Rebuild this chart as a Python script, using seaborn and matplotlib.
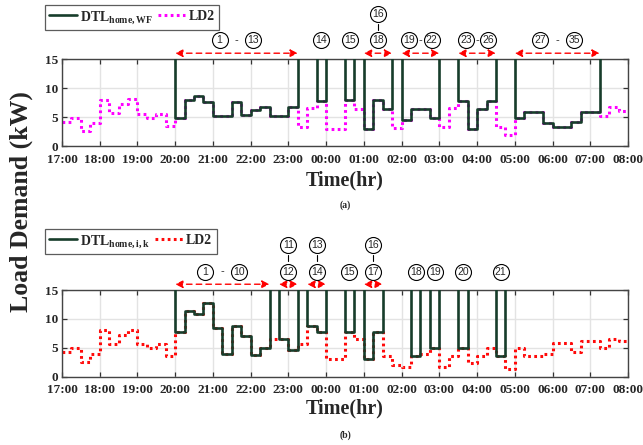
import numpy as np
import pandas as pd
import matplotlib
matplotlib.use("Agg")
import matplotlib.pyplot as plt
import seaborn as sns

# --- time axis: 15-min slots from 17:00 to 08:00 (hours after midnight counted as 24+) ---
slots = np.arange(17, 32, 0.25)
hour_ticks = list(range(17, 33))
hour_labels = [f"{h % 24:02d}:00" for h in hour_ticks]

N = None

# --- (a) DTL_home,WF and LD2 (None = not in that series for the slot) ---
dtl_a = ([N] * 12
         + [4.9, 7.9, 8.6, 7.6, 5.2, 5.2, 7.6, 5.3, 6.2, 6.8, 5.1, 5.1, 6.8]
         + [N, N, 7.8, N, N, 7.9, N, 3.0, 8.0, 6.4, N, 4.5, 6.4, 6.4, 4.8, N, N,
            7.8, 3.0, 6.4, 7.8, N, N, 4.8, 5.8, 5.8, 4.0, 3.3, 3.3, 4.2, 5.9, 5.9, N, N, N])
ld2_a = ([4.2, 4.9, 2.6, 3.9, 8.0, 5.7, 7.3, 8.1, 5.6, 4.8, 5.6, 3.5]
         + [N] * 13
         + [3.2, 6.5, N, 3.0, 3.0, N, 6.3, N, N, N, 3.1, N, N, N, N, 3.2, 6.6,
            N, N, N, N, 3.3, 1.9, N, N, N, N, N, N, N, N, N, 5.2, 6.7, 6.1])

# --- (b) DTL_home,i,k and LD2 ---
dtl_b = ([N] * 12
         + [7.8, 11.3, 10.9, 12.7, 8.4, 3.9, 8.7, 7.1, 3.8, 5.0]
         + [N, 6.6, 4.7, N, 8.7, 7.8, N, N, 7.8, N, 3.0, 7.8, N, N, N, 3.5, N, 4.9,
            N, N, 4.9, N, N, N, 3.5] + [N] * 13)
ld2_b = ([4.2, 5.0, 2.6, 4.0, 8.1, 5.7, 7.3, 8.1, 5.7, 4.9, 5.7, 3.6]
         + [N] * 10
         + [6.6, N, N, 5.6, N, N, 3.0, 3.0, N, 6.5, N, N, 3.5, 2.1, 1.6, N, 4.0, N,
            1.6, 3.5, N, 2.3, 3.5, 4.9, N, 1.4, 4.9, 3.5, 3.5, 4.0, 5.9, 5.9, 4.2,
            6.1, 6.1, 4.9, 6.6, 6.1])

# --- slot labels: (first, last, start hour, end hour, kind) ---
tags_a = [("1", "13", 20.0, 23.25, "range"), ("14", N, 23.75, 24.0, "single"),
          ("15", N, 24.5, 24.75, "single"), ("16", "18", 25.0, 25.75, "stack"),
          ("19", "22", 26.0, 27.0, "range"), ("23", "26", 27.5, 28.5, "range"),
          ("27", "35", 29.0, 31.25, "range")]
tags_b = [("1", "10", 20.0, 22.5, "range"), ("11", "12", 22.75, 23.25, "stack"),
          ("13", "14", 23.5, 24.0, "stack"), ("15", N, 24.45, 24.75, "single"),
          ("16", "17", 25.0, 25.5, "stack"), ("18", N, 26.25, 26.5, "single"),
          ("19", N, 26.75, 27.0, "single"), ("20", N, 27.5, 27.75, "single"),
          ("21", N, 28.5, 28.75, "single")]

sns.set_theme(style="ticks")
plt.rcParams["font.family"] = ["Liberation Serif", "DejaVu Serif"]
plt.rcParams["font.weight"] = "bold"
plt.rcParams["mathtext.fontset"] = "custom"
plt.rcParams["mathtext.rm"] = "Liberation Serif:bold"
plt.rcParams["mathtext.bf"] = "Liberation Serif:bold"

DTL_COLOR = "#173d2b"


def build(dtl, ld2):
    df = pd.DataFrame({"t": slots, "DTL": dtl, "LD2": ld2}, dtype=float)
    # LD2 hidden under DTL during the charging slots, DTL off-scale otherwise
    df["LD2"] = df["LD2"].fillna(df["DTL"])
    df["DTL"] = df["DTL"].fillna(16.5)
    last = df.iloc[[-1]].copy()
    last["t"] = 32.0
    return pd.concat([df, last], ignore_index=True)


def circ(ax, x, y, txt):
    ax.plot([x], [y], "o", ms=11.5, mfc="white", mec="black", mew=0.8,
            clip_on=False, zorder=10)
    ax.text(x, y, txt, ha="center", va="center", fontsize=7.5,
            family="Liberation Sans", fontweight="normal", zorder=11)


def arrow(ax, x0, x1, y=16.0):
    ax.annotate("", xy=(x1, y), xytext=(x0, y), annotation_clip=False,
                arrowprops=dict(arrowstyle="<|-|>", color="red", ls=(0, (4, 3)),
                                lw=1.0, mutation_scale=11, shrinkA=0, shrinkB=0))


def draw_tags(ax, tags):
    for lo, hi, x0, x1, kind in tags:
        xc = (x0 + x1) / 2
        if kind == "single":
            circ(ax, xc, 18.2, lo)
        elif kind == "stack":
            circ(ax, xc, 22.8, lo)
            circ(ax, xc, 18.2, hi)
            ax.plot([xc, xc], [20.0, 21.0], color="black", lw=0.8, clip_on=False)
            arrow(ax, x0, x1)
        else:
            gap = 0.45 if (x1 - x0) > 1.5 else 0.3
            circ(ax, xc - gap, 18.2, lo)
            circ(ax, xc + gap, 18.2, hi)
            ax.text(xc, 18.2, "-", ha="center", va="center", fontsize=8,
                    family="Liberation Sans", fontweight="normal")
            arrow(ax, x0, x1)


def panel(ax, df, ld2_color, dtl_label):
    sns.lineplot(data=df, x="t", y="LD2", drawstyle="steps-post", color=ld2_color,
                 lw=2.2, linestyle=(0, (0.9, 1.1)), ax=ax, label="LD2", zorder=2)
    sns.lineplot(data=df, x="t", y="DTL", drawstyle="steps-post", color=DTL_COLOR,
                 lw=1.9, ax=ax, label=dtl_label, zorder=3)
    ax.set_xlim(17, 32)
    ax.set_ylim(0, 15)
    ax.set_xticks(hour_ticks)
    ax.set_xticklabels(hour_labels)
    ax.set_yticks([0, 5, 10, 15])
    ax.grid(True, color="#e3e3e3", lw=1.0)
    ax.set_axisbelow(True)
    ax.tick_params(direction="in", top=True, right=True, length=3.5, width=0.9,
                   labelsize=9.5, color="#333333")
    ax.tick_params(axis="x", pad=5.5)
    ax.tick_params(axis="y", pad=3)
    for lab in ax.get_xticklabels() + ax.get_yticklabels():
        lab.set_fontweight("bold")
    for s in ax.spines.values():
        s.set_color("#444444")
        s.set_linewidth(1.0)
    ax.set_xlabel("")
    ax.set_ylabel("")
    h, l = ax.get_legend_handles_labels()
    return [h[1], h[0]], [l[1], l[0]]


fig = plt.figure(figsize=(6.43, 4.45), dpi=100)
ax_a = fig.add_axes([0.0964, 0.6719, 0.8803, 0.1955])
ax_b = fig.add_axes([0.0964, 0.1535, 0.8803, 0.1948])

for ax, dtl, ld2, col, lab, tags, y_leg in [
        (ax_a, dtl_a, ld2_a, "#ff00ff", r"DTL$_{\rm home,WF}$", tags_a, 0.989),
        (ax_b, dtl_b, ld2_b, "#ff0a0a", r"DTL$_{\rm home,i,k}$", tags_b, 0.486)]:
    hh, ll = panel(ax, build(dtl, ld2), col, lab)
    draw_tags(ax, tags)
    leg = ax.legend(hh, ll, loc="upper left", bbox_to_anchor=(0.070, y_leg),
                    bbox_transform=fig.transFigure, ncol=2, fontsize=10,
                    frameon=True, fancybox=False, edgecolor="#333333",
                    borderpad=0.3, handlelength=2.0, columnspacing=0.3,
                    handletextpad=0.25, borderaxespad=0)
    leg.get_frame().set_linewidth(0.9)
    for txt in leg.get_texts():
        txt.set_fontweight("bold")

fig.text(0.5366, 0.5955, "Time(hr)", ha="center", va="center", fontsize=14.5,
         fontweight="bold")
fig.text(0.5366, 0.539, "(a)", ha="center", va="center", fontsize=7,
         fontweight="bold")
fig.text(0.5366, 0.081, "Time(hr)", ha="center", va="center", fontsize=14.5,
         fontweight="bold")
fig.text(0.5366, 0.022, "(b)", ha="center", va="center", fontsize=7,
         fontweight="bold")
fig.text(0.033, 0.546, "Load Demand (kW)", rotation=90, ha="center", va="center",
         fontsize=18.5, fontweight="bold")

fig.savefig("out.png", dpi=100)
